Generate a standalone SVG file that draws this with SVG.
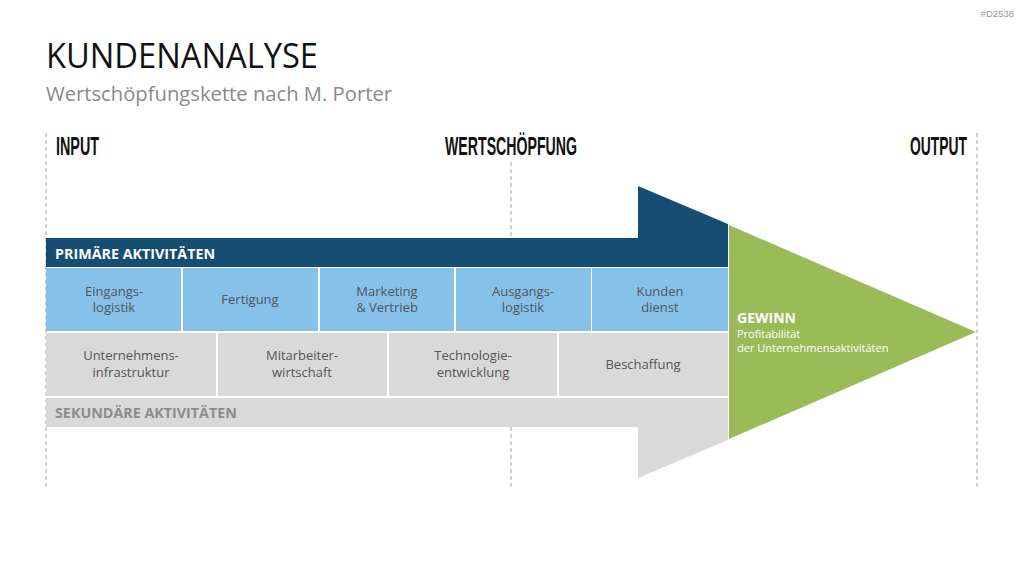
<svg xmlns="http://www.w3.org/2000/svg" width="1024" height="576" viewBox="0 0 1024 576">
<style>
.guide{stroke:#b3b3b3;stroke-width:1.2;stroke-dasharray:4 3;fill:none}
.hdr{font-family:"Liberation Sans",Arial,sans-serif;font-weight:bold;fill:#111}
.cellB{fill:#85C1E9}
.cellG{fill:#D9D9D9}
.ct{font-family:"Open Sans","Noto Sans",sans-serif;font-size:13px;fill:#555;text-anchor:middle}
.bar{font-family:"Open Sans","Noto Sans",sans-serif;font-size:14.3px;font-weight:bold}
</style>
<rect width="1024" height="576" fill="#fff"/>
<g id="title">
<text x="46" y="68" font-family="Open Sans,Noto Sans,sans-serif" font-size="34" fill="#111" textLength="272" lengthAdjust="spacingAndGlyphs">KUNDENANALYSE</text>
<text x="46" y="101" font-family="Open Sans,Noto Sans,sans-serif" font-size="20" fill="#8a8a8a" textLength="346" lengthAdjust="spacingAndGlyphs">Wertschöpfungskette nach M. Porter</text>
<text x="1014" y="17" font-family="Liberation Sans,Arial,sans-serif" font-size="9.5" fill="#999" text-anchor="end">#D2538</text>
</g>
<g id="guides">
<line class="guide" x1="46" y1="133" x2="46" y2="487"/>
<line class="guide" x1="511" y1="162" x2="511" y2="238"/>
<line class="guide" x1="511" y1="427" x2="511" y2="487"/>
<line class="guide" x1="977" y1="133" x2="977" y2="487"/>
</g>
<g id="headers">
<text class="hdr" x="56" y="155" font-size="26" textLength="43" lengthAdjust="spacingAndGlyphs">INPUT</text>
<text class="hdr" x="445" y="155" font-size="26" textLength="132" lengthAdjust="spacingAndGlyphs">WERTSCHÖPFUNG</text>
<text class="hdr" x="910" y="155" font-size="26" textLength="57" lengthAdjust="spacingAndGlyphs">OUTPUT</text>
</g>
<g id="primary">
<polygon points="46,238 638,238 638,186 728,224 728,267 46,267" fill="#164D72"/>
<text class="bar" x="55" y="259" fill="#fff">PRIMÄRE AKTIVITÄTEN</text>
</g>
<g id="secondary">
<polygon points="46,398 728,398 728,440 638,478 638,427 46,427" fill="#D9D9D9"/>
<text class="bar" x="55" y="418" fill="#8c8c8c">SEKUNDÄRE AKTIVITÄTEN</text>
</g>
<g id="gewinn">
<polygon points="729,225 976,332 729,439" fill="#9BBB59"/>
<text x="737" y="323" font-family="Open Sans,Noto Sans,sans-serif" font-size="14" font-weight="bold" fill="#fff">GEWINN</text>
<text x="737" y="338" font-family="Open Sans,Noto Sans,sans-serif" font-size="11" fill="#fff">Profitabilität</text>
<text x="737" y="352" font-family="Open Sans,Noto Sans,sans-serif" font-size="11" fill="#fff">der Unternehmensaktivitäten</text>
</g>
<g id="eingangslogistik"><rect class="cellB" x="46" y="268" width="135" height="63"/><text class="ct" x="114" y="296">Eingangs-</text><text class="ct" x="114" y="312">logistik</text></g>
<g id="fertigung"><rect class="cellB" x="183" y="268" width="135" height="63"/><text class="ct" x="250" y="304">Fertigung</text></g>
<g id="marketing"><rect class="cellB" x="320" y="268" width="134" height="63"/><text class="ct" x="387" y="296">Marketing</text><text class="ct" x="387" y="312">&amp; Vertrieb</text></g>
<g id="ausgangslogistik"><rect class="cellB" x="456" y="268" width="135" height="63"/><text class="ct" x="523" y="296">Ausgangs-</text><text class="ct" x="523" y="312">logistik</text></g>
<g id="kundendienst"><rect class="cellB" x="592" y="268" width="136" height="63"/><text class="ct" x="660" y="296">Kunden</text><text class="ct" x="660" y="312">dienst</text></g>
<g id="infrastruktur"><rect class="cellG" x="46" y="333" width="170" height="63"/><text class="ct" x="131" y="360">Unternehmens-</text><text class="ct" x="131" y="377">infrastruktur</text></g>
<g id="mitarbeiter"><rect class="cellG" x="218" y="333" width="169" height="63"/><text class="ct" x="302" y="360">Mitarbeiter-</text><text class="ct" x="302" y="377">wirtschaft</text></g>
<g id="technologie"><rect class="cellG" x="389" y="333" width="168" height="63"/><text class="ct" x="473" y="360">Technologie-</text><text class="ct" x="473" y="377">entwicklung</text></g>
<g id="beschaffung"><rect class="cellG" x="559" y="333" width="169" height="63"/><text class="ct" x="643" y="369">Beschaffung</text></g>
</svg>
